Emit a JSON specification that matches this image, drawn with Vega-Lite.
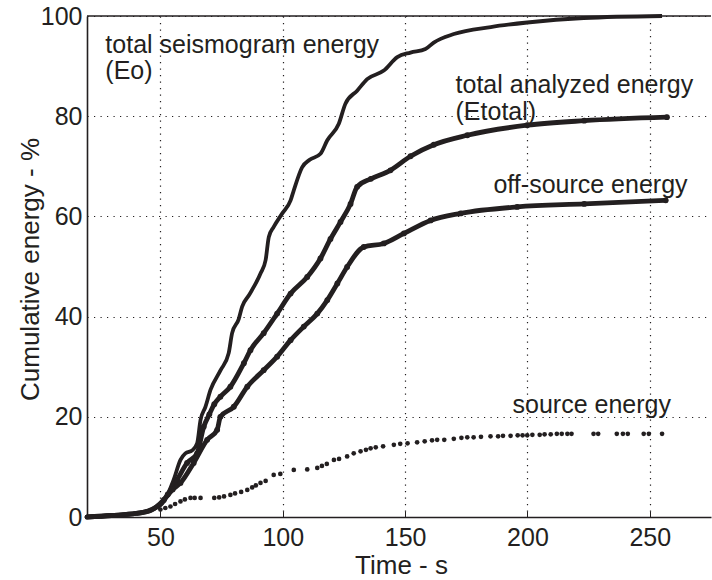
{
  "$schema": "https://vega.github.io/schema/vega-lite/v6.json",
  "autosize": {"type": "none"},
  "padding": {"left": 87, "top": 16, "right": 1, "bottom": 63},
  "width": 624,
  "height": 501,
  "background": "white",
  "config": {
    "view": {"stroke": null},
    "font": "Liberation Sans",
    "axis": {
      "grid": true,
      "gridColor": "#231f20",
      "gridDash": [1.2, 5.3],
      "gridWidth": 1.2,
      "gridOpacity": 1,
      "domainColor": "#231f20",
      "domainWidth": 1.6,
      "tickColor": "#231f20",
      "labelColor": "#231f20",
      "titleColor": "#231f20",
      "labelFont": "Liberation Sans",
      "titleFont": "Liberation Sans",
      "labelFontSize": 25,
      "titleFontSize": 26,
      "titleFontWeight": "normal"
    },
    "text": {"font": "Liberation Sans", "fontSize": 25, "color": "#231f20", "align": "left", "baseline": "alphabetic"}
  },
  "datasets": {
    "curves": [
      {"s": "Eo", "t": 20, "e": 0}, {"s": "Eo", "t": 30, "e": 0.3}, {"s": "Eo", "t": 40, "e": 0.7}, {"s": "Eo", "t": 45, "e": 1.2},
      {"s": "Eo", "t": 47.3, "e": 1.6}, {"s": "Eo", "t": 51.4, "e": 3.1}, {"s": "Eo", "t": 55.4, "e": 7.4}, {"s": "Eo", "t": 58.2, "e": 11.4},
      {"s": "Eo", "t": 60.2, "e": 12.7}, {"s": "Eo", "t": 63, "e": 13.3}, {"s": "Eo", "t": 65, "e": 14.7}, {"s": "Eo", "t": 66.4, "e": 19.4},
      {"s": "Eo", "t": 68.4, "e": 22}, {"s": "Eo", "t": 70.5, "e": 25.4}, {"s": "Eo", "t": 74.6, "e": 29.3}, {"s": "Eo", "t": 77.9, "e": 32.7},
      {"s": "Eo", "t": 79.3, "e": 36.7}, {"s": "Eo", "t": 82, "e": 39.5}, {"s": "Eo", "t": 83.4, "e": 42}, {"s": "Eo", "t": 86.1, "e": 44.2},
      {"s": "Eo", "t": 90.9, "e": 48.6}, {"s": "Eo", "t": 93, "e": 51.3}, {"s": "Eo", "t": 94.3, "e": 55.9}, {"s": "Eo", "t": 96.3, "e": 57.9},
      {"s": "Eo", "t": 99.8, "e": 60.6}, {"s": "Eo", "t": 103.2, "e": 63.2}, {"s": "Eo", "t": 104.5, "e": 65.2}, {"s": "Eo", "t": 107.9, "e": 69.8},
      {"s": "Eo", "t": 111, "e": 71.3}, {"s": "Eo", "t": 115.4, "e": 72.5}, {"s": "Eo", "t": 118.2, "e": 75.2}, {"s": "Eo", "t": 122.9, "e": 78.5},
      {"s": "Eo", "t": 125.6, "e": 82.5}, {"s": "Eo", "t": 130.4, "e": 85.1}, {"s": "Eo", "t": 134.5, "e": 87.4}, {"s": "Eo", "t": 141.3, "e": 89.1},
      {"s": "Eo", "t": 146.8, "e": 91.8}, {"s": "Eo", "t": 152.2, "e": 92.7}, {"s": "Eo", "t": 158.3, "e": 93.4}, {"s": "Eo", "t": 161.7, "e": 94.7},
      {"s": "Eo", "t": 169.9, "e": 96.4}, {"s": "Eo", "t": 185, "e": 97.8}, {"s": "Eo", "t": 199.9, "e": 98.7}, {"s": "Eo", "t": 223, "e": 99.6},
      {"s": "Eo", "t": 255, "e": 100},

      {"s": "Etotal", "t": 20, "e": 0}, {"s": "Etotal", "t": 30, "e": 0.3}, {"s": "Etotal", "t": 40, "e": 0.7}, {"s": "Etotal", "t": 46, "e": 1.4},
      {"s": "Etotal", "t": 50, "e": 2.6}, {"s": "Etotal", "t": 53, "e": 4.5}, {"s": "Etotal", "t": 56.8, "e": 7.4}, {"s": "Etotal", "t": 60.9, "e": 10.8},
      {"s": "Etotal", "t": 65, "e": 12.7}, {"s": "Etotal", "t": 67.7, "e": 18}, {"s": "Etotal", "t": 70, "e": 20.5}, {"s": "Etotal", "t": 72, "e": 22.5},
      {"s": "Etotal", "t": 74.5, "e": 24}, {"s": "Etotal", "t": 78.6, "e": 26}, {"s": "Etotal", "t": 84.1, "e": 30.7}, {"s": "Etotal", "t": 86.8, "e": 33.3},
      {"s": "Etotal", "t": 92.2, "e": 36.7}, {"s": "Etotal", "t": 97.7, "e": 40.6}, {"s": "Etotal", "t": 103.2, "e": 44.6}, {"s": "Etotal", "t": 110, "e": 47.9},
      {"s": "Etotal", "t": 115.4, "e": 51.6}, {"s": "Etotal", "t": 119.5, "e": 55.5}, {"s": "Etotal", "t": 123.6, "e": 58.9}, {"s": "Etotal", "t": 127.7, "e": 62.5},
      {"s": "Etotal", "t": 130.4, "e": 65.9}, {"s": "Etotal", "t": 136, "e": 67.5}, {"s": "Etotal", "t": 144, "e": 69.2}, {"s": "Etotal", "t": 152.2, "e": 72},
      {"s": "Etotal", "t": 161.7, "e": 74.3}, {"s": "Etotal", "t": 175.4, "e": 76.2}, {"s": "Etotal", "t": 199.9, "e": 78.2}, {"s": "Etotal", "t": 223.2, "e": 79.1},
      {"s": "Etotal", "t": 257, "e": 79.8},

      {"s": "Off", "t": 20, "e": 0}, {"s": "Off", "t": 30, "e": 0.3}, {"s": "Off", "t": 40, "e": 0.7}, {"s": "Off", "t": 46, "e": 1.3},
      {"s": "Off", "t": 51.4, "e": 3.4}, {"s": "Off", "t": 55, "e": 5.5}, {"s": "Off", "t": 58.2, "e": 6.8}, {"s": "Off", "t": 63.6, "e": 10.8},
      {"s": "Off", "t": 69.1, "e": 15.4}, {"s": "Off", "t": 73.2, "e": 17.4}, {"s": "Off", "t": 74.5, "e": 20}, {"s": "Off", "t": 80, "e": 22},
      {"s": "Off", "t": 85.5, "e": 26}, {"s": "Off", "t": 92.2, "e": 29.3}, {"s": "Off", "t": 97.7, "e": 32}, {"s": "Off", "t": 103.2, "e": 35.3},
      {"s": "Off", "t": 108.6, "e": 38}, {"s": "Off", "t": 114.1, "e": 40.6}, {"s": "Off", "t": 118.2, "e": 43.3}, {"s": "Off", "t": 122.3, "e": 46.6},
      {"s": "Off", "t": 126.3, "e": 49.9}, {"s": "Off", "t": 133.1, "e": 53.9}, {"s": "Off", "t": 141.3, "e": 54.6}, {"s": "Off", "t": 149.5, "e": 56.6},
      {"s": "Off", "t": 160.4, "e": 59.2}, {"s": "Off", "t": 172.7, "e": 60.6}, {"s": "Off", "t": 195.8, "e": 61.9}, {"s": "Off", "t": 223.2, "e": 62.5},
      {"s": "Off", "t": 256.5, "e": 63.2}
    ],
    "source": [
      {"t": 50, "e": 1.5}, {"t": 52, "e": 1.8}, {"t": 54.1, "e": 2.1}, {"t": 56, "e": 2.6}, {"t": 58.2, "e": 3.1}, {"t": 60, "e": 3.5},
      {"t": 62.3, "e": 3.8}, {"t": 64, "e": 3.8}, {"t": 66.4, "e": 3.8}, {"t": 72, "e": 3.8}, {"t": 74, "e": 3.9}, {"t": 76, "e": 4.1},
      {"t": 78.6, "e": 4.4}, {"t": 80.5, "e": 4.7}, {"t": 83, "e": 5}, {"t": 85.5, "e": 5.4}, {"t": 87.5, "e": 5.9}, {"t": 89, "e": 6.3},
      {"t": 90.9, "e": 6.8}, {"t": 93, "e": 7.2}, {"t": 96.3, "e": 8.4}, {"t": 99, "e": 8.6}, {"t": 104.5, "e": 9.4}, {"t": 110, "e": 9.5},
      {"t": 114.1, "e": 9.8}, {"t": 116, "e": 10.2}, {"t": 118, "e": 10.6}, {"t": 120.9, "e": 11.4}, {"t": 123, "e": 11.6}, {"t": 126.3, "e": 12.1},
      {"t": 129, "e": 12.7}, {"t": 131.8, "e": 13.1}, {"t": 134, "e": 13.4}, {"t": 135.9, "e": 13.7}, {"t": 138, "e": 13.9}, {"t": 141, "e": 14.1},
      {"t": 145.4, "e": 14.4}, {"t": 148, "e": 14.6}, {"t": 151, "e": 14.7}, {"t": 154.9, "e": 14.9}, {"t": 158, "e": 15.1}, {"t": 161, "e": 15.3},
      {"t": 163.1, "e": 15.4}, {"t": 166, "e": 15.4}, {"t": 169.9, "e": 15.6}, {"t": 173, "e": 15.8}, {"t": 175.4, "e": 15.9}, {"t": 178, "e": 15.9},
      {"t": 181, "e": 16}, {"t": 184.9, "e": 16.1}, {"t": 188, "e": 16.1}, {"t": 190, "e": 16.2}, {"t": 193.1, "e": 16.2}, {"t": 196, "e": 16.3},
      {"t": 198, "e": 16.3}, {"t": 199.9, "e": 16.3}, {"t": 202, "e": 16.4}, {"t": 205, "e": 16.4}, {"t": 207, "e": 16.5}, {"t": 209.5, "e": 16.5},
      {"t": 212, "e": 16.6}, {"t": 214, "e": 16.6}, {"t": 216.3, "e": 16.6}, {"t": 218, "e": 16.6}, {"t": 227, "e": 16.6}, {"t": 228.9, "e": 16.6},
      {"t": 236.5, "e": 16.6}, {"t": 239, "e": 16.6}, {"t": 241, "e": 16.6}, {"t": 247.5, "e": 16.6}, {"t": 249.6, "e": 16.6}, {"t": 255, "e": 16.6}
    ]
  },
  "layer": [
    {"data": {"name": "curves"}, "transform": [{"filter": "datum.s === 'Eo'"}],
     "mark": {"type": "line", "color": "#231f20", "strokeWidth": 3.8, "strokeJoin": "round", "interpolate": "monotone"},
     "encoding": {
       "x": {
         "field": "t", "type": "quantitative",
         "scale": {"domain": [20, 275], "nice": false, "zero": false},
         "axis": {"values": [50, 100, 150, 200, 250], "title": "Time - s", "ticks": true, "tickSize": -6, "labelPadding": 14, "titleX": 314, "titleY": 56, "titleBaseline": "alphabetic", "titleAnchor": null, "titleAlign": "center"}
       },
       "y": {
         "field": "e", "type": "quantitative",
         "scale": {"domain": [0, 100], "nice": false},
         "axis": {"values": [0, 20, 40, 60, 80, 100], "title": "Cumulative energy - %", "ticks": false, "labelPadding": 5, "titleX": -49, "titleY": 253, "titleAngle": 270, "titleBaseline": "alphabetic", "titleAlign": "center"}
       }
     }},
    {"data": {"name": "curves"}, "transform": [{"filter": "datum.s !== 'Eo'"}],
     "mark": {"type": "line", "color": "#231f20", "strokeWidth": 4.8, "strokeCap": "round", "strokeJoin": "round", "interpolate": "monotone"},
     "encoding": {"x": {"field": "t", "type": "quantitative"}, "y": {"field": "e", "type": "quantitative"}, "detail": {"field": "s"}}},
    {"data": {"name": "curves"}, "transform": [{"filter": "datum.s !== 'Eo' && datum.t > 50"}],
     "mark": {"type": "point", "filled": true, "color": "#231f20", "opacity": 1, "size": 34},
     "encoding": {"x": {"field": "t", "type": "quantitative"}, "y": {"field": "e", "type": "quantitative"}}},
    {"data": {"name": "source"},
     "mark": {"type": "point", "filled": true, "color": "#231f20", "opacity": 1, "size": 22},
     "encoding": {"x": {"field": "t", "type": "quantitative"}, "y": {"field": "e", "type": "quantitative"}}},
    {"data": {"values": [{"k": 0}]}, "mark": {"type": "rule", "color": "#231f20", "strokeWidth": 1.6}, "encoding": {"y": {"datum": 100}}},
    {"data": {"values": [{"lab": "total seismogram energy"}]}, "mark": {"type": "text"},
     "encoding": {"x": {"datum": 27.5}, "y": {"datum": 92.7}, "text": {"field": "lab"}}},
    {"data": {"values": [{"lab": "(Eo)"}]}, "mark": {"type": "text"},
     "encoding": {"x": {"datum": 27.5}, "y": {"datum": 87.5}, "text": {"field": "lab"}}},
    {"data": {"values": [{"lab": "total analyzed energy"}]}, "mark": {"type": "text"},
     "encoding": {"x": {"datum": 170.6}, "y": {"datum": 84.6}, "text": {"field": "lab"}}},
    {"data": {"values": [{"lab": "(Etotal)"}]}, "mark": {"type": "text"},
     "encoding": {"x": {"datum": 170.6}, "y": {"datum": 79.3}, "text": {"field": "lab"}}},
    {"data": {"values": [{"lab": "off-source energy"}]}, "mark": {"type": "text"},
     "encoding": {"x": {"datum": 186.1}, "y": {"datum": 64.6}, "text": {"field": "lab"}}},
    {"data": {"values": [{"lab": "source energy"}]}, "mark": {"type": "text"},
     "encoding": {"x": {"datum": 193.9}, "y": {"datum": 20.8}, "text": {"field": "lab"}}}
  ]
}
